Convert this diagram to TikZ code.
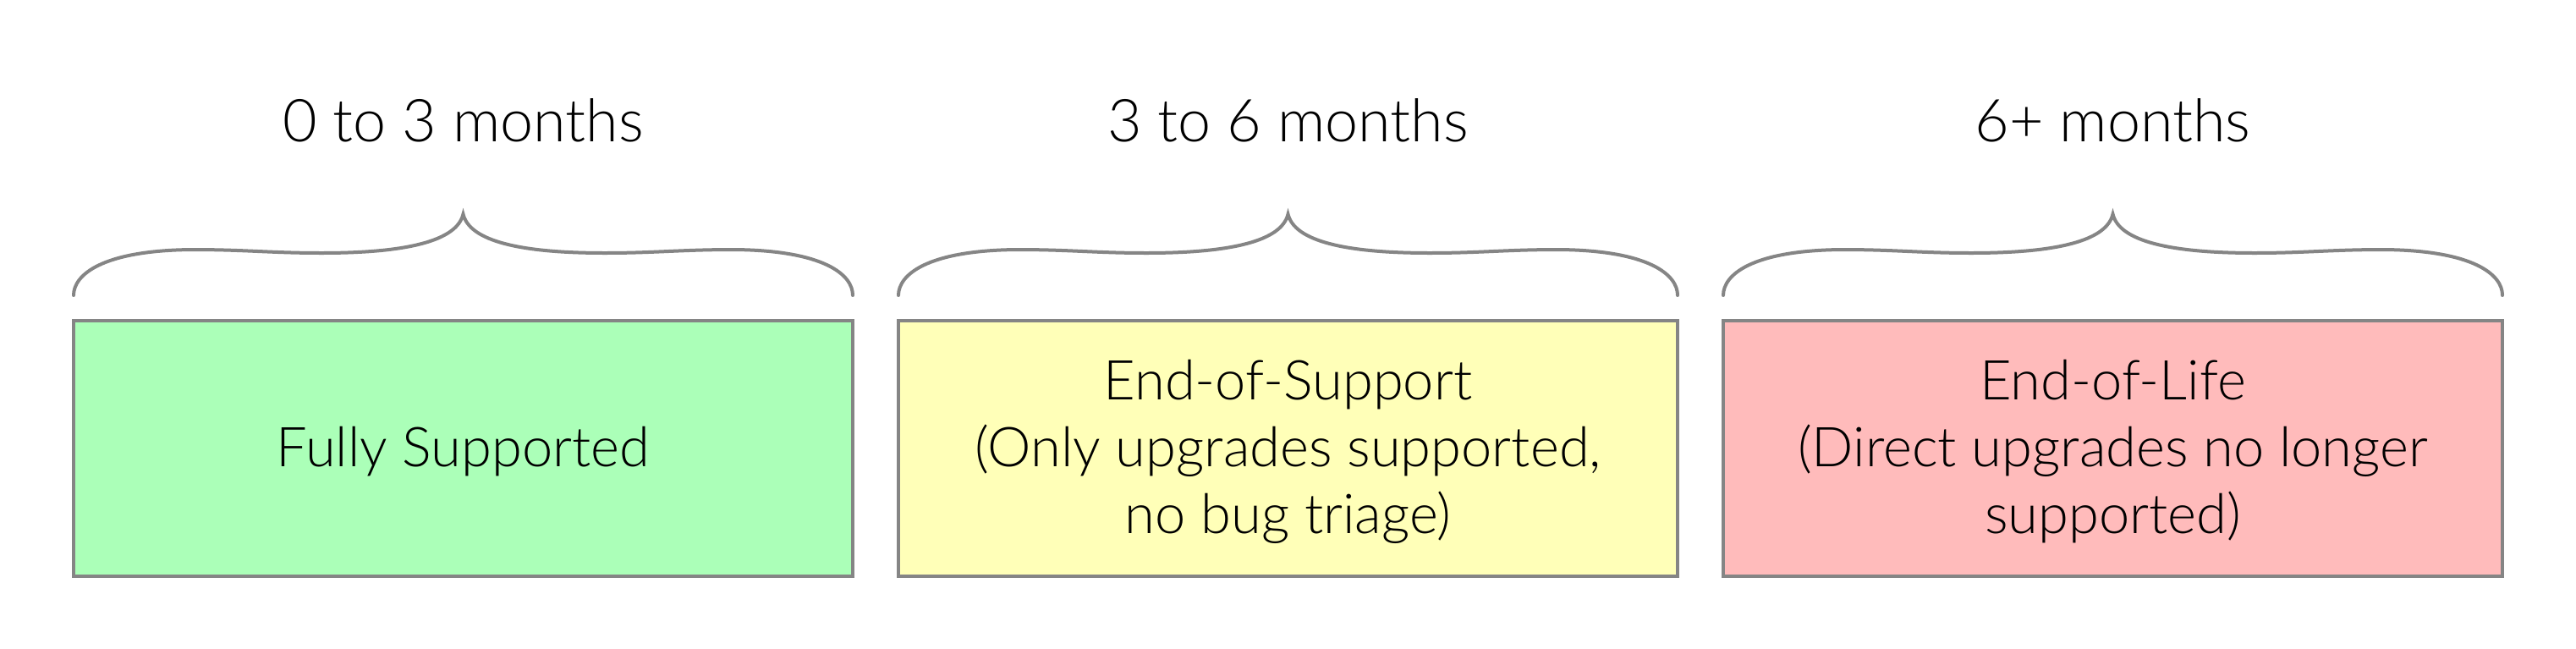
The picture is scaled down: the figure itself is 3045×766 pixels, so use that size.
\documentclass[tikz,border=0pt]{standalone}
\usepackage{fontspec}
\setmainfont{Lato Light}
\definecolor{edgegray}{HTML}{858585}
\definecolor{fillgreen}{HTML}{ABFFB8}
\definecolor{fillyellow}{HTML}{FFFFB8}
\definecolor{fillred}{HTML}{FFBBBB}
\tikzset{
  phasebox/.style={draw=edgegray, line width=2pt, minimum width=460.5pt, minimum height=151pt, inner sep=0pt},
  bracepath/.style={draw=edgegray, line width=2pt, line cap=round},
  headtxt/.style={font=\fontsize{35pt}{42pt}\selectfont, anchor=base, inner sep=0pt},
  boxtxt/.style={font=\fontsize{32.5pt}{39.5pt}\selectfont, align=center, inner sep=0pt}
}
\begin{document}
\begin{tikzpicture}[x=0.5pt,y=-0.5pt]
\useasboundingbox (0,0) rectangle (3045,766);
\fill[white] (0,0) rectangle (3045,766);
% boxes
\node[phasebox, fill=fillgreen]  (b1) at (547.5,530) {};
\node[phasebox, fill=fillyellow] (b2) at (1522.5,530) {};
\node[phasebox, fill=fillred]    (b3) at (2497.5,530) {};
% texts in boxes
\node[boxtxt] (t1) at (547.5,534) {Fully Supported};
\node[boxtxt] (t2) at (1522.5,534) {End-of-Support\\(Only upgrades supported,\\no bug triage)};
\node[boxtxt] (t3) at (2497.5,534) {End-of-Life\\(Direct upgrades no longer\\supported)};
% headers
\node[headtxt] (h1) at (547.5,167) {0 to 3 months};
\node[headtxt] (h2) at (1522.5,167) {3 to 6 months};
\node[headtxt] (h3) at (2497.5,167) {6+ months};
% braces
\foreach \c in {547.5,1522.5,2497.5}{
  \draw[bracepath] (\c-460.5,349) .. controls (\c-460.5,325) and (\c-427.5,296) .. (\c-320.5,295)
    .. controls (\c-257.5,295) and (\c-227.5,299) .. (\c-167.5,299)
    .. controls (\c-67.5,299) and (\c-7.5,285) .. (\c,253)
    .. controls (\c+7.5,285) and (\c+67.5,299) .. (\c+167.5,299)
    .. controls (\c+227.5,299) and (\c+257.5,295) .. (\c+320.5,295)
    .. controls (\c+427.5,296) and (\c+460.5,325) .. (\c+460.5,349);
}
\end{tikzpicture}
\end{document}
